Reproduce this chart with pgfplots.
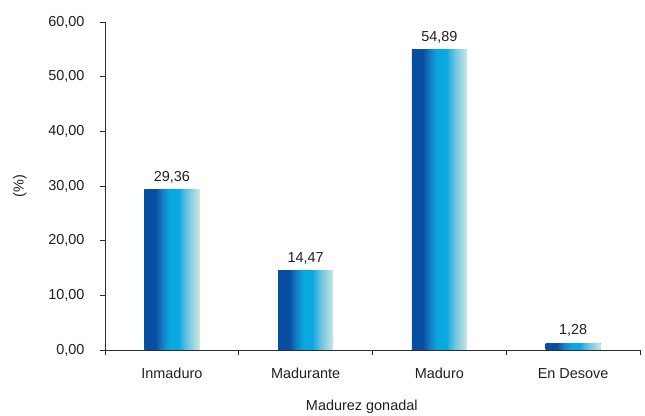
\documentclass[border=0pt]{standalone}
\usepackage{fontspec}
\setmainfont{Liberation Sans}
\usepackage{pgfplots}
\pgfplotsset{compat=1.18}

\definecolor{barA}{RGB}{8,78,160}
\definecolor{barB}{RGB}{22,122,198}
\definecolor{barC}{RGB}{10,168,224}
\definecolor{barD}{RGB}{110,196,226}
\definecolor{barE}{RGB}{200,232,224}
\definecolor{axisgray}{RGB}{45,45,45}
\definecolor{txt}{RGB}{35,31,32}

% horizontal gradient used inside each bar (path spans 25bp..75bp)
\pgfdeclarehorizontalshading{barshade}{100bp}{%
  color(0bp)=(barA); color(25bp)=(barA); color(35bp)=(barA);
  color(41bp)=(barB); color(48bp)=(barC); color(56bp)=(barC);
  color(64bp)=(barD); color(75bp)=(barE); color(100bp)=(barE)}

\pgfkeys{/pgf/number format/commatwo/.style={
  /pgf/number format/fixed, /pgf/number format/fixed zerofill,
  /pgf/number format/precision=2, /pgf/number format/use comma,
  /pgf/number format/assume math mode=true}}

\newcommand\chartfont{\fontsize{14.5}{17}\selectfont}

\begin{document}
\begin{tikzpicture}
\path[use as bounding box] (0,0) rectangle (645bp,416bp);
\begin{axis}[
  at={(105bp,66bp)}, anchor=south west,
  scale only axis, width=535bp, height=328bp,
  xmin=-0.5, xmax=3.5, ymin=0, ymax=60,
  axis lines*=left,
  axis line style={axisgray, line width=0.8bp},
  every tick/.style={axisgray, line width=0.8bp},
  tick align=outside,
  major tick length=5bp,
  % category boundaries carry the tick marks
  xtick={-0.5,0.5,1.5,2.5,3.5},
  xticklabels={},
  % category names sit at the bar centres, without marks
  extra x ticks={0,1,2,3},
  extra x tick labels={Inmaduro,Madurante,Maduro,En Desove},
  extra x tick style={major tick length=0pt},
  ytick={0,10,20,30,40,50,60},
  yticklabel style={/pgf/number format/commatwo, xshift=-12bp},
  ticklabel style={font=\chartfont, text=txt},
  xticklabel style={yshift=-15bp},
  xlabel={Madurez gonadal},
  ylabel={(\%)},
  label style={font=\chartfont, text=txt},
  xlabel style={at={(axis description cs:0.48,0)}, anchor=north, yshift=-47bp},
  ylabel style={at={(axis description cs:-0.159,0.5)}, anchor=center},
  ybar, bar shift=0pt, bar width=55bp,
  nodes near coords,
  nodes near coords style={font=\chartfont, text=txt, yshift=3bp, /pgf/number format/commatwo},
  every axis plot/.append style={draw=none, shading=barshade},
  clip=false,
]
\addplot coordinates {(0,29.36)};
\addplot coordinates {(1,14.47)};
\addplot coordinates {(2,54.89)};
\addplot coordinates {(3,1.28)};
\end{axis}
\end{tikzpicture}
\end{document}
